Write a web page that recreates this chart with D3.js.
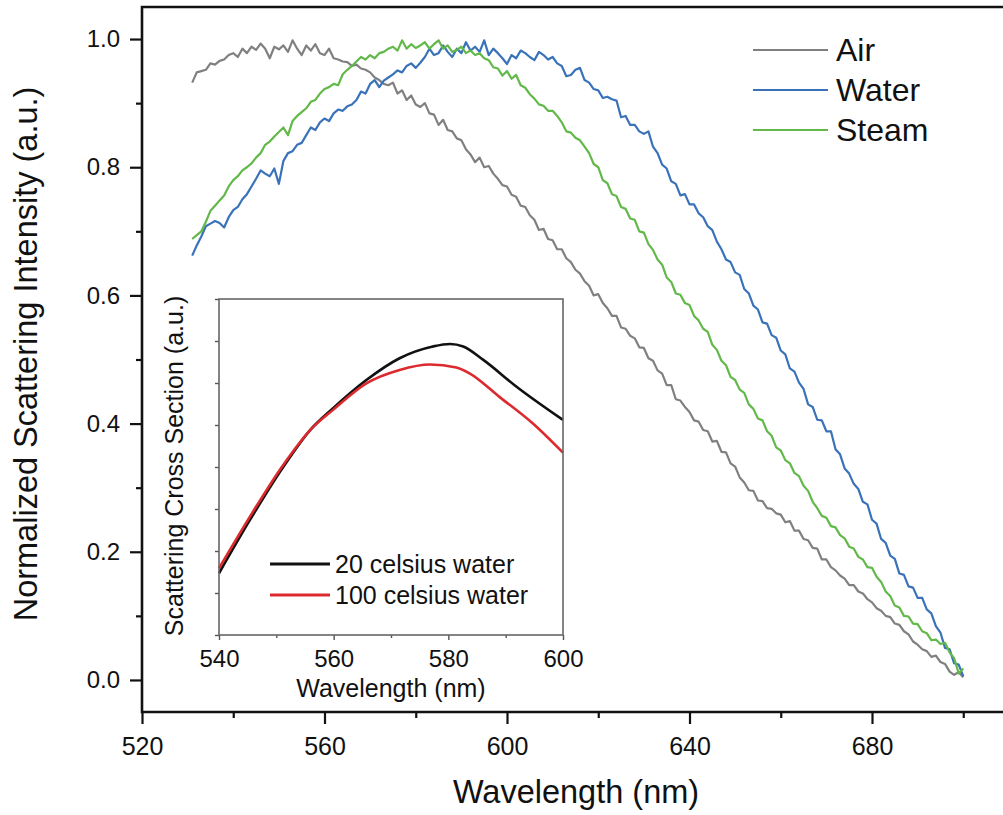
<!DOCTYPE html>
<html>
<head>
<meta charset="utf-8">
<title>Scattering spectra</title>
<script src="https://cdn.jsdelivr.net/npm/d3@7"></script>
<style>
  body { margin: 0; background: #fff; }
  text { font-family: "Liberation Sans", Arial, sans-serif; }
</style>
</head>
<body>
<svg id="svg"></svg>
<script>
var WIDTH = 1003, HEIGHT = 815;

// wavelength grid of the measured spectra (nm)
var wavelengths = d3.range(531, 701);

var air = [
 0.932,0.948,0.950,0.952,0.962,0.960,0.966,0.968,0.975,0.978,
 0.972,0.985,0.978,0.988,0.983,0.993,0.985,0.970,0.988,0.984,
 0.990,0.980,0.998,0.985,0.975,0.990,0.982,0.992,0.978,0.975,
 0.985,0.970,0.968,0.965,0.964,0.958,0.960,0.954,0.952,0.948,
 0.940,0.936,0.930,0.928,0.932,0.915,0.920,0.905,0.912,0.898,
 0.894,0.900,0.884,0.882,0.866,0.874,0.858,0.856,0.845,0.842,
 0.828,0.820,0.808,0.815,0.800,0.802,0.790,0.782,0.772,0.770,
 0.757,0.754,0.740,0.738,0.725,0.718,0.702,0.704,0.688,0.686,
 0.672,0.672,0.658,0.652,0.640,0.634,0.622,0.615,0.600,0.602,
 0.588,0.580,0.568,0.568,0.550,0.548,0.537,0.533,0.519,0.518,
 0.502,0.498,0.483,0.478,0.460,0.460,0.438,0.436,0.426,0.418,
 0.405,0.403,0.390,0.388,0.372,0.373,0.356,0.355,0.338,0.333,
 0.316,0.308,0.296,0.295,0.280,0.279,0.268,0.267,0.260,0.258,
 0.246,0.248,0.233,0.233,0.220,0.218,0.206,0.205,0.188,0.188,
 0.176,0.171,0.163,0.158,0.148,0.148,0.138,0.135,0.126,0.121,
 0.112,0.108,0.100,0.098,0.088,0.086,0.076,0.071,0.060,0.055,
 0.048,0.045,0.036,0.038,0.028,0.025,0.013,0.008,0.012,0.004
];

var water = [
 0.662,0.678,0.692,0.708,0.712,0.716,0.713,0.706,0.722,0.733,
 0.738,0.750,0.758,0.770,0.782,0.795,0.790,0.786,0.798,0.774,
 0.810,0.822,0.825,0.835,0.838,0.850,0.862,0.858,0.870,0.876,
 0.872,0.884,0.890,0.888,0.895,0.898,0.905,0.918,0.915,0.930,
 0.936,0.925,0.935,0.940,0.945,0.951,0.948,0.958,0.962,0.955,
 0.963,0.972,0.985,0.975,0.978,0.990,0.980,0.972,0.985,0.978,
 0.995,0.982,0.988,0.980,0.998,0.975,0.985,0.978,0.970,0.961,
 0.975,0.970,0.982,0.978,0.972,0.967,0.980,0.975,0.968,0.972,
 0.962,0.958,0.942,0.944,0.952,0.955,0.936,0.932,0.922,0.920,
 0.908,0.910,0.906,0.904,0.878,0.880,0.866,0.866,0.856,0.852,
 0.856,0.832,0.822,0.804,0.798,0.778,0.774,0.756,0.758,0.742,
 0.742,0.728,0.722,0.708,0.702,0.684,0.672,0.656,0.652,0.636,
 0.632,0.610,0.603,0.584,0.578,0.558,0.556,0.538,0.534,0.514,
 0.508,0.486,0.481,0.464,0.454,0.430,0.426,0.406,0.405,0.388,
 0.388,0.360,0.352,0.330,0.322,0.306,0.298,0.278,0.274,0.250,
 0.244,0.220,0.214,0.194,0.189,0.166,0.164,0.146,0.144,0.128,
 0.128,0.110,0.104,0.084,0.074,0.050,0.048,0.026,0.024,0.006
];

var steam = [
 0.688,0.694,0.700,0.715,0.732,0.740,0.748,0.756,0.770,0.780,
 0.786,0.795,0.800,0.806,0.815,0.822,0.835,0.840,0.848,0.855,
 0.862,0.850,0.872,0.880,0.886,0.892,0.902,0.905,0.915,0.922,
 0.925,0.930,0.928,0.945,0.952,0.958,0.965,0.972,0.968,0.975,
 0.970,0.978,0.980,0.985,0.988,0.982,0.998,0.985,0.992,0.986,
 0.990,0.995,0.985,0.992,0.998,0.985,0.990,0.980,0.983,0.988,
 0.978,0.982,0.975,0.978,0.970,0.967,0.956,0.954,0.943,0.950,
 0.938,0.944,0.928,0.924,0.914,0.907,0.898,0.896,0.888,0.888,
 0.880,0.870,0.856,0.854,0.846,0.842,0.832,0.822,0.805,0.800,
 0.780,0.775,0.758,0.755,0.738,0.735,0.720,0.718,0.700,0.698,
 0.680,0.671,0.656,0.648,0.628,0.621,0.603,0.601,0.588,0.585,
 0.568,0.561,0.548,0.543,0.523,0.515,0.498,0.491,0.473,0.468,
 0.453,0.448,0.430,0.423,0.408,0.405,0.388,0.381,0.363,0.358,
 0.343,0.338,0.323,0.318,0.303,0.295,0.278,0.268,0.256,0.253,
 0.240,0.238,0.226,0.221,0.208,0.205,0.192,0.188,0.176,0.175,
 0.161,0.153,0.138,0.131,0.116,0.113,0.100,0.099,0.088,0.087,
 0.076,0.073,0.062,0.063,0.056,0.058,0.043,0.034,0.010,0.018
];

var seriesNames = ["Air", "Water", "Steam"];
var seriesColors = ["#808080", "#3a72b9", "#62b849"];

// inset: calculated cross sections (a.u.)
var insetWl20 = [540, 545.4, 551.2, 555.9, 559.9, 565.7, 571.5, 577.3, 580.3, 582.6, 586.1, 591.9, 600];
var inset20 = [1.47, 2.74, 4.00, 4.88, 5.40, 6.07, 6.59, 6.87, 6.93, 6.87, 6.55, 5.91, 5.12];
var insetWl100 = [540, 545.4, 551.2, 555.9, 559.9, 565.7, 571.5, 576.8, 581.4, 583.7, 588.9, 594.7, 600];
var inset100 = [1.59, 2.82, 4.05, 4.88, 5.36, 5.99, 6.31, 6.44, 6.37, 6.23, 5.67, 5.04, 4.34];
var insetNames = ["20 celsius water", "100 celsius water"];
var insetColors = ["#111111", "#dc2a2e"];

var xTicks = [520, 560, 600, 640, 680];
var yTicks = [0.0, 0.2, 0.4, 0.6, 0.8, 1.0];
var insetXTicks = [540, 560, 580, 600];

var svg = d3.select("#svg").attr("width", WIDTH).attr("height", HEIGHT);

var L = 142, T = 7, B = 712;
var x = d3.scaleLinear().domain([520, 710]).range([L, L + 190 * 4.5625]);
var y = d3.scaleLinear().domain([-0.05, 1.05]).range([B, T]);

var sets = [air, water, steam];
var line = d3.line()
    .x(function(d){ return x(d[0]); })
    .y(function(d){ return y(d[1]); });

sets.forEach(function(vals, i){
    svg.append("path")
       .datum(wavelengths.map(function(w, j){ return [w, vals[j]]; }))
       .attr("fill", "none")
       .attr("stroke", seriesColors[i])
       .attr("stroke-width", 2.2)
       .attr("stroke-linejoin", "round")
       .attr("d", line);
});

// axes
var xAxis = svg.append("g").attr("transform", "translate(0," + B + ")")
    .call(d3.axisBottom(x).tickValues(xTicks).tickSize(12).tickPadding(13)
          .tickFormat(d3.format("d")));
var xMinor = svg.append("g").attr("transform", "translate(0," + B + ")")
    .call(d3.axisBottom(x).tickValues([540, 580, 620, 660, 700]).tickSize(6).tickFormat(""));
var yAxis = svg.append("g").attr("transform", "translate(" + L + ",0)")
    .call(d3.axisLeft(y).tickValues(yTicks).tickSize(12).tickPadding(10)
          .tickFormat(d3.format(".1f")));
var yMinor = svg.append("g").attr("transform", "translate(" + L + ",0)")
    .call(d3.axisLeft(y).tickValues([0.1, 0.3, 0.5, 0.7, 0.9]).tickSize(6).tickFormat(""));

[xAxis, xMinor, yAxis, yMinor].forEach(function(g){
    g.select(".domain").remove();
    g.selectAll(".tick line").attr("stroke", "#111").attr("stroke-width", 2.2);
    g.selectAll(".tick text").attr("font-size", "24px").attr("fill", "#111")
     .style("font-family", "'Liberation Sans', Arial, sans-serif");
});
xAxis.selectAll(".tick text").attr("font-size", "25px");

// frame (right side runs off the picture)
svg.append("path")
   .attr("d", "M" + 1010 + "," + T + "H" + L + "V" + B + "H" + 1010)
   .attr("fill", "none").attr("stroke", "#111").attr("stroke-width", 2.6);

svg.append("text")
   .attr("x", 576).attr("y", 803)
   .attr("text-anchor", "middle").attr("font-size", "32.5px").attr("fill", "#111")
   .text("Wavelength (nm)");
svg.append("text")
   .attr("transform", "translate(37,354) rotate(-90)")
   .attr("text-anchor", "middle").attr("font-size", "32.5px").attr("fill", "#111")
   .text("Normalized Scattering Intensity (a.u.)");

// legend
seriesNames.forEach(function(name, i){
    var ly = 50 + i * 40;
    svg.append("line").attr("x1", 753).attr("x2", 828).attr("y1", ly).attr("y2", ly)
       .attr("stroke", seriesColors[i]).attr("stroke-width", 2.2);
    svg.append("text").attr("x", 836).attr("y", ly + 11)
       .attr("font-size", "32px").attr("fill", "#111").text(name);
});

// inset
var IL = 219, IR = 563, IT = 299, IB = 635;
var ix = d3.scaleLinear().domain([540, 600]).range([IL, IR]);
var iy = d3.scaleLinear().domain([0, 8]).range([IB, IT]);

svg.append("rect").attr("x", IL).attr("y", IT).attr("width", IR - IL).attr("height", IB - IT)
   .attr("fill", "#fff");

var iline = d3.line().curve(d3.curveMonotoneX)
    .x(function(d){ return ix(d[0]); })
    .y(function(d){ return iy(d[1]); });

[[insetWl20, inset20], [insetWl100, inset100]].forEach(function(s, i){
    svg.append("path")
       .datum(s[0].map(function(w, j){ return [w, s[1][j]]; }))
       .attr("fill", "none").attr("stroke", insetColors[i]).attr("stroke-width", 2.6)
       .attr("d", iline);
});

var ixAxis = svg.append("g").attr("transform", "translate(0," + IB + ")")
    .call(d3.axisBottom(ix).tickValues(insetXTicks).tickSize(5).tickPadding(10)
          .tickFormat(d3.format("d")));
var ixMinor = svg.append("g").attr("transform", "translate(0," + IB + ")")
    .call(d3.axisBottom(ix).tickValues([550, 570, 590]).tickSize(3).tickFormat(""));
var iyAxis = svg.append("g").attr("transform", "translate(" + IL + ",0)")
    .call(d3.axisLeft(iy).tickValues(d3.range(0, 9)).tickSize(4).tickFormat(""));

[ixAxis, ixMinor, iyAxis].forEach(function(g){
    g.select(".domain").remove();
    g.selectAll(".tick line").attr("stroke", "#555").attr("stroke-width", 1.4);
    g.selectAll(".tick text").attr("font-size", "24px").attr("fill", "#111")
     .style("font-family", "'Liberation Sans', Arial, sans-serif");
});

svg.append("rect").attr("x", IL).attr("y", IT).attr("width", IR - IL).attr("height", IB - IT)
   .attr("fill", "none").attr("stroke", "#666").attr("stroke-width", 1.6);

svg.append("text")
   .attr("x", (IL + IR) / 2).attr("y", 697)
   .attr("text-anchor", "middle").attr("font-size", "25px").attr("fill", "#111")
   .text("Wavelength (nm)");
svg.append("text")
   .attr("transform", "translate(183,466) rotate(-90)")
   .attr("text-anchor", "middle").attr("font-size", "25px").attr("fill", "#111")
   .text("Scattering Cross Section (a.u.)");

insetNames.forEach(function(name, i){
    var ly = 564 + i * 31;
    svg.append("line").attr("x1", 270).attr("x2", 330).attr("y1", ly).attr("y2", ly)
       .attr("stroke", insetColors[i]).attr("stroke-width", 2.8);
    svg.append("text").attr("x", 335).attr("y", ly + 9)
       .attr("font-size", "25px").attr("fill", "#111").text(name);
});
</script>
</body>
</html>
